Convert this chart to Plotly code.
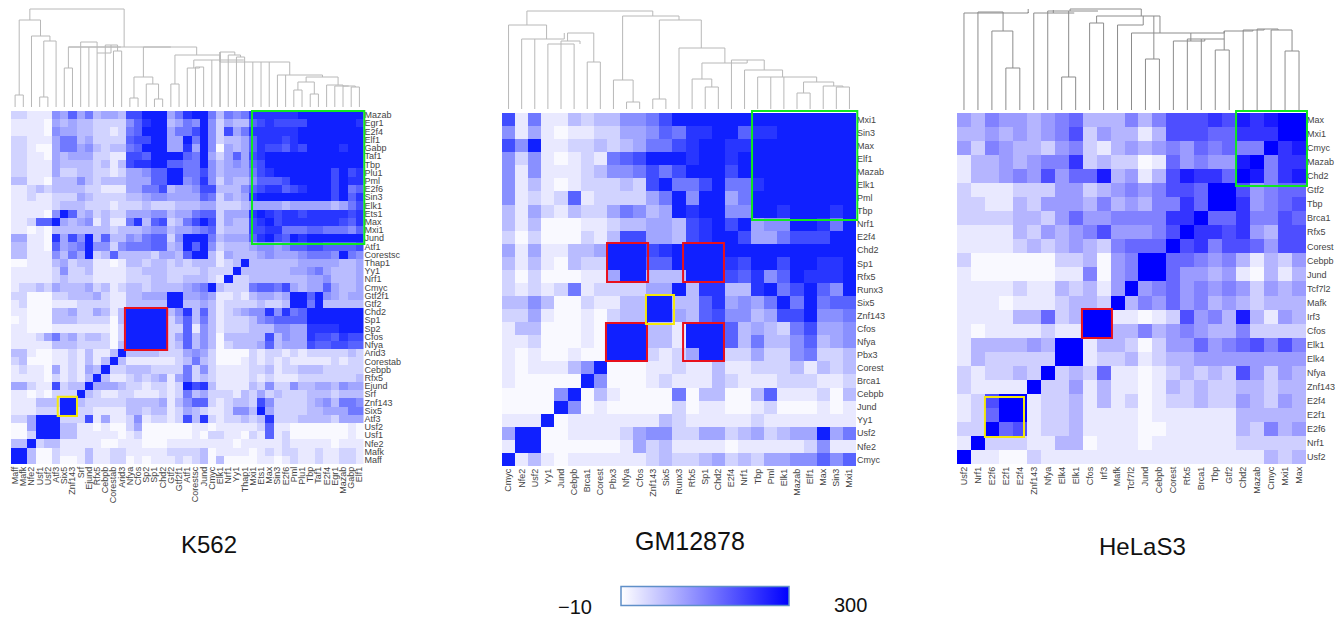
import plotly.graph_objects as go

W, H = 1342, 619

# ---- K562 -------------------------------------------------------------
k562_cols = ["Maff","Mafk","Nfe2","Usf1","Usf2","Atf3","Six5","Znf143","Srf","Ejund","Rfx5","Cebpb","Corestab","Arid3","Nfya","Cfos","Sp2","Sp1","Chd2","Gtf2","Gtf2f1","Atf1","Corestsc","Jund","Cmyc","Elk1","Nrf1","Yy1","Thap1","Mxi1","Ets1","Max","Sin3","E2f6","Pml","Plu1","Tbp","Taf1","E2f4","Egr1","Mazab","Gabp","Elf1"]
k562_rows = ["Mazab","Egr1","E2f4","Elf1","Gabp","Taf1","Tbp","Plu1","Pml","E2f6","Sin3","Elk1","Ets1","Max","Mxi1","Jund","Atf1","Corestsc","Thap1","Yy1","Nrf1","Cmyc","Gtf2f1","Gtf2","Chd2","Sp1","Sp2","Cfos","Nfya","Arid3","Corestab","Cebpb","Rfx5","Ejund","Srf","Znf143","Six5","Atf3","Usf2","Usf1","Nfe2","Mafk","Maff"]
# signal on a 0-10 colour level (0 = -10, 10 = 300)
k562_z = [
[2,2,1,1,1,5,4,7,4,6,3,4,4,3,8,8,10,10,10,4,6,9,10,10,6,3,6,5,6,9,9,9,9,9,9,10,10,10,10,10,10,10,10],
[1,1,1,1,0,4,3,4,3,3,2,2,2,2,5,7,9,10,10,3,4,6,5,10,5,2,4,3,3,7,8,9,8,8,8,8,10,10,10,10,10,10,9],
[1,1,1,1,0,5,4,4,3,3,2,2,1,2,6,7,10,10,10,4,6,6,8,10,5,2,8,4,6,9,9,9,9,9,9,10,10,10,10,10,10,10,10],
[2,2,1,1,1,4,6,6,3,4,2,2,2,2,7,8,8,10,10,4,4,10,6,10,5,2,3,3,4,7,9,9,9,8,9,10,10,10,10,10,10,10,10],
[2,2,1,0,0,4,6,6,4,5,3,2,3,3,6,7,10,10,10,4,4,9,4,10,5,0,4,3,4,7,9,8,8,7,9,8,10,10,10,10,9,10,10],
[2,2,1,1,0,4,3,4,4,4,2,2,1,1,8,8,7,10,10,10,10,7,6,10,4,2,4,7,4,8,9,10,10,10,10,10,10,10,10,10,10,10,10],
[2,2,1,1,1,4,3,3,3,3,2,3,1,3,8,9,9,10,10,7,7,6,6,10,5,3,4,5,4,7,8,10,10,10,10,10,10,10,10,10,10,10,10],
[2,2,1,1,1,4,2,2,3,3,2,2,1,2,4,4,5,7,7,10,10,6,6,8,5,3,4,4,4,6,8,9,10,10,10,10,10,10,10,8,10,8,9],
[3,3,1,1,0,3,3,3,5,3,2,3,3,3,4,4,4,7,7,10,10,5,6,9,5,2,4,3,3,5,7,7,7,8,10,10,10,10,10,8,10,9,9],
[1,1,2,3,2,3,3,3,3,2,2,1,1,1,4,4,6,6,8,3,4,4,5,8,8,3,3,3,5,7,8,9,9,7,8,9,10,10,10,8,10,6,7],
[1,1,2,1,1,2,2,2,4,3,2,2,2,2,3,3,4,5,5,4,4,4,4,7,6,2,4,3,4,9,10,10,10,10,10,10,10,10,10,8,10,7,9],
[1,1,1,1,1,2,3,3,3,2,2,2,1,2,2,2,3,2,2,2,3,3,3,4,4,2,2,2,3,4,4,4,4,3,4,4,4,4,4,3,4,6,8],
[1,1,1,1,0,5,10,7,3,4,2,3,2,2,4,4,4,5,5,3,4,4,6,7,7,2,4,4,4,9,10,9,8,9,9,8,9,9,9,9,9,8,9],
[1,1,2,7,7,10,4,3,4,5,1,3,1,1,6,9,3,7,8,2,3,6,8,10,8,2,4,3,3,8,9,10,8,9,9,9,9,9,9,9,8,7,9],
[1,1,0,1,0,3,3,3,3,3,3,3,2,3,3,3,4,5,5,3,4,4,5,6,7,2,3,3,3,8,8,9,9,6,6,6,7,7,6,6,6,5,7],
[4,4,1,1,0,9,4,8,5,10,3,7,3,3,5,4,6,7,7,2,5,10,10,10,6,3,4,4,4,7,9,10,8,7,10,9,10,10,10,10,10,10,10],
[3,3,1,1,0,7,4,5,6,10,5,5,2,5,6,6,6,7,7,3,4,10,7,10,5,2,3,3,3,4,5,5,4,5,7,7,8,8,7,7,7,7,8],
[3,3,1,1,1,5,3,6,4,10,2,3,7,3,3,3,3,2,4,4,3,7,10,10,3,1,4,3,3,3,4,5,4,4,4,5,6,6,6,5,10,6,5],
[0,0,1,1,1,3,4,2,3,3,1,1,0,1,3,3,2,3,3,2,3,2,3,3,3,1,2,3,10,3,3,3,3,3,3,4,4,4,4,4,3,3,4],
[1,1,1,1,1,2,5,2,2,3,1,1,1,1,2,2,3,3,3,2,2,2,2,3,2,2,2,10,3,3,3,3,3,3,4,4,5,6,4,3,3,3,4],
[1,1,1,1,1,2,3,2,2,2,1,1,1,1,2,2,2,3,3,2,2,3,3,3,2,1,10,2,2,3,3,3,3,3,3,3,4,4,5,3,3,3,4],
[1,2,2,3,2,4,3,3,3,4,2,3,1,2,3,3,2,3,3,3,3,4,5,6,10,3,2,2,2,6,7,7,6,8,4,3,4,4,7,4,3,3,4],
[2,2,0,0,0,2,2,3,3,3,4,2,1,1,3,3,4,4,4,10,10,4,4,5,4,1,1,2,1,3,4,4,3,4,10,10,7,10,5,4,3,4,4],
[1,2,0,0,0,1,1,1,2,2,2,2,1,1,3,3,3,3,3,10,10,3,3,4,3,1,2,2,2,2,3,2,2,3,10,10,6,10,3,3,3,3,3],
[1,1,0,0,0,3,3,4,2,2,4,3,1,3,10,10,10,10,10,3,5,9,3,7,3,1,2,3,4,5,5,9,5,9,6,7,10,10,10,10,10,10,10],
[0,1,0,0,0,3,3,3,2,2,2,2,0,3,10,10,10,10,10,2,4,7,3,6,3,1,2,2,2,3,5,6,7,7,7,7,10,10,10,10,10,10,10],
[1,1,0,0,0,1,1,1,1,1,1,1,0,2,10,10,10,10,10,2,2,7,1,5,3,1,2,2,2,3,3,3,5,5,4,4,9,9,9,9,10,10,10],
[1,1,1,2,4,6,3,4,2,3,3,2,0,2,10,10,10,10,10,2,4,7,3,5,3,0,3,3,3,3,3,8,3,5,4,4,9,8,8,7,9,8,8],
[1,1,1,1,1,3,3,3,2,2,2,2,0,3,10,10,10,10,10,2,3,7,3,5,3,0,2,3,3,3,4,7,3,4,4,4,8,7,7,8,8,7,7],
[3,3,1,0,0,1,1,2,1,3,1,1,3,10,3,3,3,3,2,2,2,4,5,4,2,0,0,0,0,2,1,2,2,1,2,1,2,2,2,2,2,3,2],
[2,3,0,0,0,1,1,2,1,3,1,3,10,3,1,1,1,1,1,1,2,3,6,3,2,0,0,0,1,2,1,2,1,2,1,1,1,1,1,2,1,2,2],
[1,2,1,1,0,4,1,2,1,4,3,10,2,2,3,3,3,2,2,2,2,6,2,5,2,1,1,1,1,2,2,3,1,2,2,3,3,3,2,2,2,2,2],
[1,1,1,1,0,2,1,2,1,3,10,3,1,1,2,3,2,3,4,1,4,6,2,3,2,1,1,1,1,2,1,2,1,1,1,2,2,2,2,2,2,2,3],
[4,4,2,1,1,8,2,3,3,10,4,4,4,3,2,2,1,2,2,1,2,10,8,9,3,1,1,1,1,3,2,5,2,2,5,3,3,4,4,3,5,4,4],
[1,1,0,1,0,2,2,2,10,3,2,1,1,2,2,1,1,1,2,1,2,6,3,4,2,2,2,1,3,2,4,2,3,2,2,2,3,3,3,2,3,3,3],
[1,1,1,3,3,3,10,10,3,2,2,2,2,2,3,3,3,3,4,1,3,5,7,7,2,1,2,3,3,2,8,5,2,2,2,2,3,4,5,3,6,6,5],
[1,1,1,2,2,2,10,10,2,2,1,1,1,1,3,3,2,3,3,1,2,4,3,2,1,1,2,5,5,3,10,4,2,2,2,2,3,3,4,4,4,6,6],
[2,2,4,10,10,10,2,2,2,8,1,4,1,1,2,5,1,2,2,1,2,8,3,9,2,1,2,2,3,2,3,9,2,2,2,3,3,3,3,2,4,4,4],
[0,0,4,10,10,10,3,3,1,1,0,1,0,0,2,4,0,0,0,0,0,0,1,1,0,1,1,1,1,1,2,7,1,1,0,0,0,0,0,0,0,1,0],
[0,0,2,10,10,10,3,3,1,1,1,1,1,0,1,2,0,0,0,0,0,0,1,0,2,2,1,1,0,2,1,7,1,2,0,0,0,0,0,0,0,1,0],
[3,3,10,2,3,3,1,1,1,1,1,0,0,1,1,1,0,0,0,1,1,1,1,1,1,1,1,0,1,1,1,1,1,2,1,1,1,1,1,0,1,1,1],
[10,10,3,0,0,2,1,1,1,3,1,1,2,2,1,1,1,1,1,2,2,2,2,3,0,1,1,1,1,0,1,2,1,2,2,1,1,2,1,1,2,2,1],
[10,10,3,0,0,2,0,0,1,3,1,1,2,2,0,1,0,1,1,1,2,1,2,3,0,3,0,0,0,0,1,1,0,1,2,1,1,2,1,1,2,2,1],
]
# each link: left leaf, right leaf, left height, right height, top height
k562_links = [
[0,1,0,0,12],[3,4,0,0,10],[3.5,5,10,0,66],[2,4.25,0,66,71],[0.5,3.1,12,71,87],[1.8,13.3,87,60,98],
[6,7,0,0,39],[12,13,0,0,56],[11,12.5,0,56,62],[10,11.7,0,62,54],[8,10,0,54,65],[6.5,12.9,39,60,60],[9,9,0,60,60],
[14,15,0,0,9],[17,18,0,0,8],[16,17.5,0,8,23],[14.5,16.8,9,23,30],[6.5,19,60,60,60],[15.65,22.15,30,52,60],
[19,20,0,0,23],[19.5,25,23,45,52],[22,23,0,0,40],[21,22.5,0,40,39],[21.8,27.9,39,47,47],[24,24,0,47,47],
[27,28,0,0,50],[26,27.5,0,50,52],[25,26.8,0,52,55],[25,33.5,55,32,45],[25,25,0,55,55],[29,29,0,45,45],[30,30,0,45,45],[31,31,0,45,45],
[34,35,0,0,17],[36,37,0,0,13],[34.5,36.5,17,13,25],[41,42,0,0,20],[40,41.5,0,20,21],[39,40.7,0,21,21],[38,40,0,21,22],[35.5,39.4,25,22,30],[32,37.5,0,30,32],[33,33,0,32,32],
]

# ---- GM12878 ----------------------------------------------------------
gm_cols = ["Cmyc","Nfe2","Usf2","Yy1","Jund","Cebpb","Brca1","Corest","Pbx3","Nfya","Cfos","Znf143","Six5","Runx3","Rfx5","Sp1","Chd2","E2f4","Nrf1","Tbp","Pml","Elk1","Mazab","Elf1","Max","Sin3","Mxi1"]
gm_rows = ["Mxi1","Sin3","Max","Elf1","Mazab","Elk1","Pml","Tbp","Nrf1","E2f4","Chd2","Sp1","Rfx5","Runx3","Six5","Znf143","Cfos","Nfya","Pbx3","Corest","Brca1","Cebpb","Jund","Yy1","Usf2","Nfe2","Cmyc"]
gm_z = [
[8,1,6,1,1,3,2,3,3,5,5,6,8,10,10,10,10,10,10,10,10,10,10,10,10,10,10],
[5,1,4,1,0,1,1,2,2,4,4,5,7,6,9,9,10,10,7,9,9,10,10,10,10,10,10],
[8,5,10,1,1,2,2,3,2,3,4,6,6,8,9,10,10,9,9,10,10,10,10,10,10,10,10],
[5,2,5,1,0,1,2,1,6,7,8,10,10,10,9,10,10,9,10,10,10,10,10,10,10,10,10],
[5,1,5,1,1,1,2,3,5,5,6,8,6,8,10,10,10,8,10,10,10,10,10,10,10,10,10],
[5,1,3,1,0,1,2,2,2,3,2,8,10,6,6,8,10,6,6,9,10,10,10,10,10,10,10],
[5,1,2,1,2,7,1,2,2,2,2,4,6,10,5,10,10,4,6,10,10,10,10,10,10,10,10],
[3,1,4,2,1,3,2,2,4,6,5,3,4,10,9,10,10,5,5,10,10,9,10,10,10,9,10],
[3,1,3,0,0,0,1,1,2,3,3,4,4,3,8,9,10,8,10,4,5,5,10,10,9,6,10],
[2,0,2,0,0,0,2,1,3,8,8,4,4,3,8,9,10,10,8,4,4,6,8,8,8,10,10],
[4,1,4,1,1,3,3,4,10,10,10,8,9,10,10,10,10,10,10,10,10,10,10,10,10,10,10],
[3,1,3,1,0,3,2,2,10,10,10,7,7,10,10,10,10,9,8,10,10,8,10,10,9,9,10],
[2,0,2,0,0,0,1,1,4,10,10,3,3,3,10,10,10,8,7,9,5,7,10,9,9,9,10],
[2,1,2,1,2,6,1,2,2,2,2,4,4,10,3,9,9,3,3,9,10,6,8,10,7,5,10],
[3,3,5,3,0,0,2,1,1,3,3,10,10,3,3,7,9,4,5,4,6,10,6,10,6,7,7],
[2,2,4,1,0,0,1,0,2,3,3,10,10,4,3,7,8,5,5,3,4,8,8,10,5,5,6],
[1,3,3,0,0,0,1,0,10,10,10,3,3,1,10,10,10,7,3,4,3,2,6,8,4,4,5],
[1,1,2,0,0,0,1,0,10,10,10,3,3,1,10,10,10,7,3,6,3,3,5,7,3,4,5],
[1,0,1,0,0,1,0,0,10,10,10,2,1,2,4,10,10,2,2,4,2,2,5,6,2,2,3],
[1,0,1,1,1,3,5,10,0,0,0,1,1,2,1,1,3,1,1,2,2,2,3,1,3,2,3],
[1,0,0,0,0,0,10,5,0,0,0,1,2,1,1,1,3,2,1,1,1,2,2,2,1,1,2],
[0,0,0,0,5,10,0,3,1,0,0,0,0,6,0,3,3,0,0,3,7,1,1,1,2,0,3],
[0,0,0,0,10,5,0,1,0,0,0,0,0,2,0,1,1,0,0,1,2,0,0,0,1,0,1],
[1,1,1,10,0,1,1,1,1,1,1,1,3,2,1,1,1,1,1,2,1,1,1,1,1,1,1],
[4,10,10,0,0,1,1,1,1,2,4,5,5,2,2,4,4,2,3,4,2,3,4,4,10,4,6],
[1,10,10,0,0,0,0,0,0,1,4,2,3,1,1,1,1,0,1,1,1,1,1,2,5,1,1],
[10,1,3,1,0,1,1,1,1,1,1,2,3,2,2,3,4,2,3,2,4,4,5,5,7,5,7],
]
gm_links = [
[6,7,0,0,47],[3,5,0,0,65],[4,4,0,65,65],[4,5.45,65,65,68],[4.5,6.5,68,47,76],[1,4.25,0,76,70],[2,2,0,70,70],[0,2.9,0,70,84],[1.4,11,84,93,98],
[9,10,0,0,7],[8,9.5,0,7,29],[8.7,13,29,89,93],[11,12,0,0,10],[11.5,14.7,10,61,89],
[15,16,0,0,22],[14,15.5,0,22,30],[13,16.5,0,46,61],[14.75,18.2,30,49,46],[17,19.5,0,39,49],[18,20.9,0,32,39],
[19,23.5,0,31,32],[20,20,0,32,32],[21,21,0,32,32],[25,26,0,0,22],[24,25.5,0,22,23],[22,23,0,0,16],[22.5,24.8,16,23,27],[23.5,23.5,27,31,31],
]

# ---- HeLaS3 -----------------------------------------------------------
hela_cols = ["Usf2","Nrf1","E2f6","E2f1","E2f4","Znf143","Nfya","Elk4","Elk1","Cfos","Irf3","Mafk","Tcf7l2","Jund","Cebpb","Corest","Rfx5","Brca1","Tbp","Gtf2","Chd2","Mazab","Cmyc","Mxi1","Max"]
hela_rows = ["Max","Mxi1","Cmyc","Mazab","Chd2","Gtf2","Tbp","Brca1","Rfx5","Corest","Cebpb","Jund","Tcf7l2","Mafk","Irf3","Cfos","Elk1","Elk4","Nfya","Znf143","E2f4","E2f1","E2f6","Nrf1","Usf2"]
hela_z = [
[4,3,5,4,4,3,4,5,6,3,3,3,5,3,5,7,7,7,8,7,9,8,9,10,10],
[3,3,4,3,4,3,4,5,7,2,4,3,3,1,3,7,7,7,6,6,8,8,8,10,10],
[4,2,5,4,3,3,2,4,5,2,1,3,4,3,4,5,4,6,5,6,5,5,10,8,9],
[1,3,3,4,3,4,5,5,8,2,3,2,2,0,1,6,4,5,4,4,9,10,5,8,8],
[1,3,3,4,5,4,7,4,6,6,9,3,4,1,3,7,9,8,8,6,10,9,5,8,9],
[2,1,1,1,2,2,2,4,4,2,3,4,5,4,5,7,7,6,10,10,7,4,5,6,6],
[2,2,1,1,3,2,4,4,4,3,5,3,4,3,5,5,8,6,10,10,8,4,5,6,7],
[2,2,2,2,3,3,2,4,6,4,4,5,5,5,5,8,8,10,6,6,8,5,5,7,6],
[1,1,1,1,3,2,4,3,4,5,7,4,4,4,5,7,10,8,8,7,8,4,3,7,7],
[1,1,1,1,2,3,2,3,4,3,2,5,6,6,6,10,7,8,5,7,7,6,4,7,7],
[2,0,0,0,0,0,0,2,2,3,0,4,5,10,10,6,6,5,4,5,3,1,3,2,4],
[1,0,0,0,0,0,0,1,1,5,0,4,5,10,10,6,4,4,3,4,1,0,3,1,3],
[1,1,1,1,2,1,1,3,2,3,1,4,10,4,5,6,4,5,4,5,4,2,4,3,4],
[1,1,1,0,1,1,1,2,3,3,2,10,3,5,4,6,4,5,3,4,3,2,3,3,3],
[1,1,1,1,3,3,6,2,3,10,10,1,1,0,1,2,7,4,5,3,9,3,1,4,3],
[1,0,1,1,1,1,2,1,1,10,10,3,3,5,3,4,5,4,3,3,5,2,2,2,2],
[1,3,3,3,3,4,3,10,10,1,3,3,2,0,2,4,4,6,4,5,6,7,5,7,5],
[1,3,2,2,2,2,2,10,10,1,2,2,3,1,2,3,3,4,4,4,4,4,4,4,4],
[2,1,2,2,3,2,10,2,3,2,6,1,1,0,1,2,3,2,3,2,7,4,2,4,3],
[2,1,1,1,1,10,2,2,4,1,3,1,1,0,1,3,2,3,2,2,3,3,2,3,3],
[1,2,7,10,10,1,2,2,3,1,3,1,2,0,1,2,2,3,2,2,4,3,2,4,3],
[1,2,6,10,10,1,2,2,3,1,1,1,1,0,1,1,1,1,1,1,3,3,3,3,3],
[2,2,10,6,7,1,2,2,3,1,1,1,1,0,0,1,1,1,1,1,3,2,5,3,4],
[1,10,2,2,2,1,1,3,3,0,1,1,1,0,1,1,1,1,1,1,2,2,2,2,2],
[10,1,1,0,0,2,1,1,1,1,1,1,1,1,1,1,1,1,1,1,1,1,3,2,3],
]
hela_links = [
[3,4,0,0,42],[2,3.5,0,42,79],[1,2.8,0,79,98],[0,4.6,0,98,97],[4.6,4.6,97,101,101],
[7,8,0,0,33],[5,7.9,0,97,97],[6,9.6,0,99,99],[7.5,7.5,33,99,99],[6.4,6.4,97,100,100],
[9,10,0,0,87],[9.5,14.04,87,94,94],[7.6,12.7,99,94,101],
[13,14,0,0,51],[13.6,13.6,51,94,94],[12,16.25,0,77,77],[14.04,14.04,77,94,94],[11,12.84,0,94,85],
[15,17.25,0,71,69],[16,18.64,0,60,71],[17,17,0,71,71],[16.25,16.25,69,77,77],[18,19,0,0,60],[18.64,20.7,71,80,79],[16.25,18.64,77,79,77],
[23,24,0,0,59],[22,23.5,0,59,80],[21,22.5,0,80,81],[20,21.5,0,81,80],
]

# ---- outline boxes: colour, first col, last col, first row, last row (cell index units)
GREEN, RED, YELLOW = "#10e820", "#e8101c", "#f4e80c"
k562_boxes = [(GREEN,28.9,42.6,-0.5,15.7),(RED,13.4,18.55,23.5,28.6),(YELLOW,5.2,7.55,34.3,36.65)]
gm_boxes = [(GREEN,18.57,26.6,-0.65,7.69),(RED,7.51,10.64,9.45,12.43),(RED,13.31,16.43,9.45,12.43),
            (RED,7.43,10.56,15.57,18.47),(RED,13.31,16.43,15.57,18.47),(YELLOW,10.48,12.62,13.43,15.64)]
hela_boxes = [(GREEN,19.49,24.57,-0.64,4.7),(RED,8.45,10.6,13.46,15.53),(YELLOW,1.5,4.3,19.73,22.58)]

panels = [
    dict(name="K562", cols=k562_cols, rows=k562_rows, z=k562_z, links=k562_links, boxes=k562_boxes,
         px=(11,363.5,111,464), base=107, top=0, blue="#1020ff", line="#b8b8b8", ticks="#d0d0d0", title=(209,544,24)),
    dict(name="GM12878", cols=gm_cols, rows=gm_rows, z=gm_z, links=gm_links, boxes=gm_boxes,
         px=(502,856,113,466), base=109, top=2, blue="#1020ff", line="#b8b8b8", ticks="#a8a8a8", title=(690,541,25)),
    dict(name="HeLaS3", cols=hela_cols, rows=hela_rows, z=hela_z, links=hela_links, boxes=hela_boxes,
         px=(957,1306,113,464), base=110, top=0, blue="#0000ff", line="#8c8c8c", ticks=None, title=(1142,546,24)),
]

FONT = "Liberation Sans"
fig = go.Figure()
layout = dict(width=W, height=H, margin=dict(l=0,r=0,t=0,b=0), paper_bgcolor="white", plot_bgcolor="white",
              showlegend=False, font=dict(family=FONT, color="#333333"), shapes=[], annotations=[])

for i, p in enumerate(panels):
    n, m = len(p["cols"]), len(p["rows"])
    for r, row in enumerate(p["z"]):
        if len(row) != n:
            raise ValueError(f'{p["name"]} row {r} {p["rows"][r]} has {len(row)} cols, want {n}')
    if len(p["z"]) != m:
        raise ValueError(p["name"] + " row count")
    x0, x1, y0, y1 = p["px"]
    xa_h, ya_h = 2*i+1, 2*i+1
    xa_d, ya_d = 2*i+2, 2*i+2
    sfx = lambda k: "" if k == 1 else str(k)
    dom_x = [x0/W, x1/W]
    # heat map: near-white floor so the lightest cells keep a faint lilac tint
    fig.add_trace(go.Heatmap(z=p["z"], x=list(range(n)), y=list(range(m)), zmin=0, zmax=10,
                             colorscale=[[0,"#f9f9ff"],[0.1,"#e9e9ff"],[1,p["blue"]]], showscale=False, xgap=0, ygap=0,
                             xaxis="x"+sfx(xa_h), yaxis="y"+sfx(ya_h)))
    layout["xaxis"+sfx(xa_h)] = dict(domain=dom_x, range=[-0.5,n-0.5], anchor="y"+sfx(ya_h), tickmode="array",
        tickvals=list(range(n)), ticktext=p["cols"], tickangle=-90, ticks="", tickfont=dict(size=9,color="#444444"),
        showgrid=False, zeroline=False, showline=False, automargin=False)
    layout["yaxis"+sfx(ya_h)] = dict(domain=[1-y1/H, 1-y0/H], range=[m-0.5,-0.5], anchor="x"+sfx(xa_h), side="right",
        tickmode="array", tickvals=list(range(m)), ticktext=p["rows"], ticks="", tickfont=dict(size=9,color="#444444"),
        showgrid=False, zeroline=False, showline=False, automargin=False)
    # small row dashes left of the map
    if p["ticks"]:
        fig.add_trace(go.Scatter(x=[-0.95*(8.2/((x1-x0)/n))]*m, y=list(range(m)), mode="markers", cliponaxis=False,
            marker=dict(symbol="line-ew", size=3, line=dict(width=1,color=p["ticks"])), hoverinfo="skip",
            xaxis="x"+sfx(xa_h), yaxis="y"+sfx(ya_h)))
    # dendrogram
    dx, dy = [], []
    for a, b, ha, hb, t in p["links"]:
        dx += [a, a, b, b, None]
        dy += [ha, t, t, hb, None]
    fig.add_trace(go.Scatter(x=dx, y=dy, mode="lines", line=dict(color=p["line"], width=1), hoverinfo="skip",
                             xaxis="x"+sfx(xa_d), yaxis="y"+sfx(ya_d)))
    layout["xaxis"+sfx(xa_d)] = dict(domain=dom_x, range=[-0.5,n-0.5], visible=False, anchor="y"+sfx(ya_d))
    layout["yaxis"+sfx(ya_d)] = dict(domain=[1-p["base"]/H, 1-p["top"]/H], range=[0,p["base"]-p["top"]], visible=False, anchor="x"+sfx(xa_d))
    # boxes: cell index units -> paper so that outlines are not clipped at the map's edge
    cw, ch = (x1-x0)/n, (y1-y0)/m
    for color, a, b, c, d in p["boxes"]:
        layout["shapes"].append(dict(type="rect", xref="paper", yref="paper",
            x0=(x0+(a+0.5)*cw)/W, x1=(x0+(b+0.5)*cw)/W, y0=1-(y0+(c+0.5)*ch)/H, y1=1-(y0+(d+0.5)*ch)/H,
            line=dict(color=color, width=2), fillcolor="rgba(0,0,0,0)"))
    # title
    tx, ty, ts = p["title"]
    layout["annotations"].append(dict(text=p["name"], xref="paper", yref="paper", x=tx/W, y=1-ty/H, showarrow=False,
                                      xanchor="center", yanchor="middle", font=dict(size=ts,color="#111111",family=FONT)))

# colour legend
fig.add_trace(go.Heatmap(z=[[-10,300]], zmin=-10, zmax=300, colorscale=[[0,"#ffffff"],[1,"#0000ff"]], opacity=0,
    xaxis="x7", yaxis="y7", hoverinfo="skip",
    colorbar=dict(orientation="h", x=621/W, xanchor="left", y=1-607/H, yanchor="bottom", lenmode="pixels", len=168,
                  thicknessmode="pixels", thickness=19, xpad=0, ypad=0, ticks="", showticklabels=False,
                  outlinecolor="#5f8fc8", outlinewidth=1.5)))
layout["xaxis7"] = dict(domain=[0,0.001], visible=False, anchor="y7")
layout["yaxis7"] = dict(domain=[0,0.001], visible=False, anchor="x7")
for text, px_x, px_y in [("\u221210", 575, 607), ("300", 850, 605)]:
    layout["annotations"].append(dict(text=text, xref="paper", yref="paper", x=px_x/W, y=1-px_y/H, showarrow=False,
        xanchor="center", yanchor="middle", font=dict(size=20,color="#111111",family=FONT)))

fig.update_layout(**layout)
fig.write_html("out.html", config={"displayModeBar": False},
               post_script="document.body.style.margin='0';document.body.style.overflow='hidden';")
